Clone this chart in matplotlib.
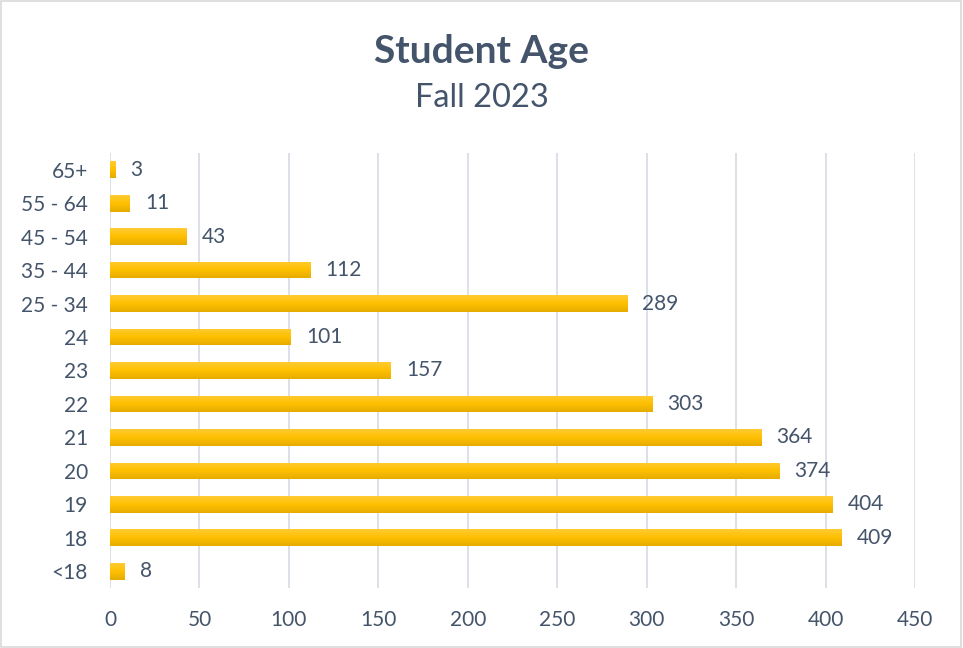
import matplotlib
matplotlib.use("Agg")
import matplotlib.pyplot as plt
import numpy as np
from matplotlib.colors import LinearSegmentedColormap
from matplotlib.patches import Rectangle

categories = ["<18", "18", "19", "20", "21", "22", "23", "24",
              "25 - 34", "35 - 44", "45 - 54", "55 - 64", "65+"]
counts = [8, 409, 404, 374, 364, 303, 157, 101, 289, 112, 43, 11, 3]
x_ticks = [0, 50, 100, 150, 200, 250, 300, 350, 400, 450]

txt = "#44546A"
plt.rcParams["font.family"] = ["Lato", "DejaVu Sans"]

fig = plt.figure(figsize=(9.63, 6.48), dpi=100)
ax = fig.add_axes([0.1142, 0.0926, 0.836, 0.6713])

y = np.arange(len(categories))
bars = ax.barh(y, counts, height=0.5, color="#FFC000", zorder=2)

# vertical gradient on each bar (light top, darker bottom)
grad = LinearSegmentedColormap.from_list("g", ["#E6AC00", "#FFC000", "#FFCB33"])
for b in bars:
    x0, y0 = b.get_x(), b.get_y()
    w, h = b.get_width(), b.get_height()
    im = ax.imshow(np.linspace(0, 1, 50).reshape(-1, 1), cmap=grad, aspect="auto",
                   extent=[x0, x0 + w, y0, y0 + h], origin="lower", zorder=3)
    im.set_clip_path(b)
    b.set_alpha(0)

for yi, v in zip(y, counts):
    ax.annotate(str(v), (v, yi), xytext=(11, 0), textcoords="offset points",
                va="center", ha="left", fontsize=15, color=txt)

ax.set_xlim(0, 450)
ax.set_ylim(-0.5, len(categories) - 0.5)
ax.set_xticks(x_ticks)
ax.set_yticks(y)
ax.set_yticklabels(categories)
ax.tick_params(axis="both", length=0, labelsize=15, labelcolor=txt)
ax.tick_params(axis="x", pad=16)
ax.tick_params(axis="y", pad=16)
ax.grid(axis="x", color="#D9DEE5", linewidth=1.3, zorder=0)
ax.set_axisbelow(True)
for s in ax.spines.values():
    s.set_visible(False)

fig.text(0.5, 0.92, "Student Age", ha="center", va="center",
         fontsize=28, fontweight="bold", color=txt)
fig.text(0.5, 0.848, "Fall 2023", ha="center", va="center",
         fontsize=23.5, color=txt)

fig.patches.append(Rectangle((0.001, 0.001), 0.997, 0.997, transform=fig.transFigure,
                             fill=False, edgecolor="#D9D9D9", linewidth=1.2))

fig.savefig("out.png", dpi=100)
